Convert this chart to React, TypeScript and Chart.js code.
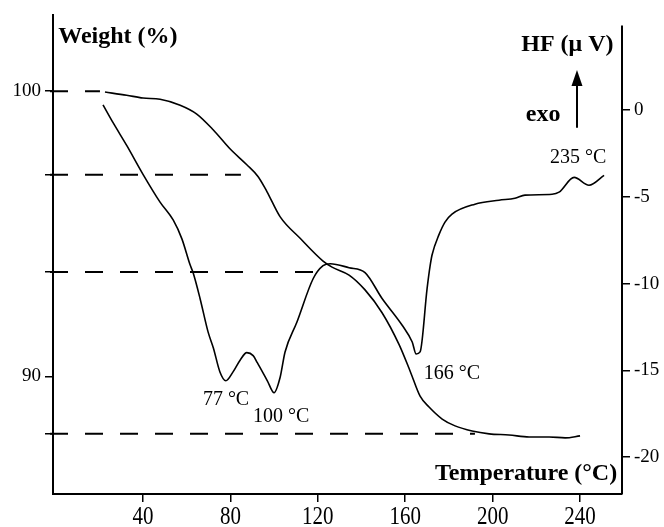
import React, { useEffect, useRef } from "react";
import { Chart, registerables } from "chart.js";

Chart.register(...registerables);

// TGA curve: temperature (°C) vs weight (%)
const tgaTemp = [22.6, 32.5, 40, 47.8, 57, 64.6, 72.2, 79.8, 87.5, 92.7, 96.7, 102.7, 111.9, 122.4, 126.5, 134.3, 141.6, 149.4, 157.2, 162.3, 166.8, 170.9, 176.9, 182.8, 190.6, 198.4, 207.5, 216.7, 225.8, 233.2, 240];
const tgaWeight = [99.97, 99.86, 99.76, 99.72, 99.51, 99.2, 98.64, 97.98, 97.42, 97.0, 96.48, 95.6, 94.84, 94.04, 93.83, 93.55, 93.03, 92.23, 91.11, 90.17, 89.3, 88.92, 88.5, 88.26, 88.08, 87.98, 87.94, 87.87, 87.87, 87.84, 87.91];

// DSC curve: temperature (°C) vs heat flow (µV)
const dscTemp = [21.7, 26.3, 32.6, 40, 47.8, 53.8, 57.8, 61.5, 62.9, 66.1, 69.8, 72.2, 75.2, 77.9, 81.2, 84.5, 87.5, 90.4, 92.3, 96.9, 100, 102.7, 105, 110.4, 117.9, 122.4, 125.7, 134.3, 141.6, 149.4, 158.6, 163.2, 165, 166.8, 170, 171.4, 172.3, 175.4, 178.2, 181.4, 191.9, 202.9, 210.2, 214.8, 227.2, 230.4, 237.3, 244.1, 251];
const dscHF = [0.29, -0.74, -2.06, -3.71, -5.31, -6.34, -7.43, -8.91, -9.37, -10.86, -12.8, -13.71, -15.09, -15.6, -15.09, -14.4, -13.98, -14.15, -14.56, -15.6, -16.29, -15.43, -13.94, -12.23, -9.71, -8.97, -8.86, -9.09, -9.37, -10.86, -12.4, -13.37, -14.06, -13.94, -10.29, -8.97, -8.34, -7.2, -6.46, -6.0, -5.43, -5.2, -5.09, -4.91, -4.86, -4.74, -3.89, -4.34, -3.77];

// Dashed weight-level guide lines
const refWeight = [100, 97.07, 93.66, 87.98];
const refStartTemp = [-2.56, -2.56, -2.56, -2.56];
const refEndTemp = [20.3, 84.8, 121.9, 191.9];

// Tick values
const xTicks = [40, 80, 120, 160, 200, 240];
const leftTicks = [100, 97.07, 93.66, 90, 87.98];
const leftLabelled = [100, 90];
const rightTicks = [0, -5, -10, -15, -20];

// Annotations (x in °C, y in µV on the right axis)
const peakLabels = ["77 °C", "100 °C", "166 °C", "235 °C"];
const peakLabelT = [78, 103.2, 181.4, 239.1];
const peakLabelH = [-16.69, -17.66, -15.2, -2.74];

const SERIF = '"Liberation Serif", "Times New Roman", serif';

const overlayPlugin = {
  id: "overlay",
  afterDatasetsDraw(chart: any) {
    const ctx = chart.ctx;
    const x = chart.scales.x;
    const yl = chart.scales.yL;
    const yr = chart.scales.yR;
    const area = chart.chartArea;
    ctx.save();
    // right axis line (shorter than the left one)
    ctx.strokeStyle = "#000";
    ctx.lineWidth = 2;
    ctx.beginPath();
    ctx.moveTo(area.right, yr.getPixelForValue(4.86));
    ctx.lineTo(area.right, area.bottom);
    ctx.stroke();

    ctx.fillStyle = "#000";
    // x tick labels (tall, narrow digits as in the scan)
    ctx.font = `21px ${SERIF}`;
    ctx.textAlign = "center";
    ctx.textBaseline = "middle";
    xTicks.forEach((v) => {
      ctx.save();
      ctx.translate(x.getPixelForValue(v), area.bottom + 23);
      ctx.scale(1, 1.2);
      ctx.fillText(String(v), 0, 0);
      ctx.restore();
    });

    // peak labels
    ctx.font = `20px ${SERIF}`;
    peakLabels.forEach((t, i) => {
      ctx.fillText(t, x.getPixelForValue(peakLabelT[i]), yr.getPixelForValue(peakLabelH[i]));
    });

    // axis titles
    ctx.font = `bold 24px ${SERIF}`;
    ctx.textAlign = "left";
    ctx.fillText("Weight (%)", x.getPixelForValue(1.2), yl.getPixelForValue(101.92));
    ctx.textAlign = "right";
    ctx.fillText("HF (\u03bc V)", x.getPixelForValue(255.3), yr.getPixelForValue(3.77));
    ctx.fillText("Temperature (\u00b0C)", x.getPixelForValue(257), yr.getPixelForValue(-20.97));
    ctx.textAlign = "center";
    ctx.fillText("exo", x.getPixelForValue(223.1), yr.getPixelForValue(-0.29));

    // exo arrow
    const ax = x.getPixelForValue(238.6);
    const yBase = yr.getPixelForValue(-1.03);
    const yTip = yr.getPixelForValue(2.29);
    const headLen = 16;
    ctx.lineWidth = 2;
    ctx.beginPath();
    ctx.moveTo(ax, yBase);
    ctx.lineTo(ax, yTip + headLen - 2);
    ctx.stroke();
    ctx.beginPath();
    ctx.moveTo(ax, yTip);
    ctx.lineTo(ax - 5.5, yTip + headLen);
    ctx.lineTo(ax + 5.5, yTip + headLen);
    ctx.closePath();
    ctx.fill();
    ctx.restore();
  },
};

export default function App() {
  const ref = useRef<HTMLCanvasElement | null>(null);
  useEffect(() => {
    if (!ref.current) return;
    const refSets = refWeight.map((w, i) => ({
      type: "line" as const,
      data: [
        { x: refStartTemp[i], y: w },
        { x: refEndTemp[i], y: w },
      ],
      yAxisID: "yL",
      borderColor: "#000",
      borderWidth: 2,
      borderDash: [18, 17],
      pointRadius: 0,
      clip: false as any,
      tension: 0,
    }));
    const chart = new Chart(ref.current, {
      type: "line",
      data: {
        datasets: [
          {
            data: tgaTemp.map((t, i) => ({ x: t, y: tgaWeight[i] })),
            yAxisID: "yL",
            borderColor: "#000",
            borderWidth: 1.6,
            pointRadius: 0,
            cubicInterpolationMode: "monotone",
          },
          {
            data: dscTemp.map((t, i) => ({ x: t, y: dscHF[i] })),
            yAxisID: "yR",
            borderColor: "#000",
            borderWidth: 1.6,
            pointRadius: 0,
            cubicInterpolationMode: "monotone",
          },
          ...refSets,
        ],
      },
      options: {
        responsive: false,
        animation: false,
        events: [],
        layout: { padding: { top: 13, left: 0, right: 0, bottom: 0 } },
        plugins: { legend: { display: false }, tooltip: { enabled: false } },
        scales: {
          x: {
            type: "linear",
            min: -1.19,
            max: 259.2,
            afterBuildTicks: (s: any) => {
              s.ticks = xTicks.map((v) => ({ value: v }));
            },
            afterFit: (s: any) => {
              s.height = 33;
            },
            ticks: { display: false },
            grid: { display: true, drawOnChartArea: false, drawTicks: true, tickLength: 8, color: "#000", lineWidth: 1.5 },
            border: { display: true, color: "#000", width: 2 },
          },
          yL: {
            type: "linear",
            position: "left",
            min: 85.87,
            max: 102.66,
            afterBuildTicks: (s: any) => {
              s.ticks = leftTicks.map((v) => ({ value: v }));
            },
            afterFit: (s: any) => {
              s.width = 53;
            },
            ticks: {
              color: "#000",
              font: { family: SERIF, size: 19 },
              padding: 4,
              autoSkip: false,
              callback: (v: any) => (leftLabelled.includes(Number(v)) ? String(v) : ""),
            },
            grid: { display: true, drawOnChartArea: false, drawTicks: true, tickLength: 8, color: "#000", lineWidth: 1.5 },
            border: { display: true, color: "#000", width: 2 },
          },
          yR: {
            type: "linear",
            position: "right",
            min: -22.12,
            max: 5.44,
            afterBuildTicks: (s: any) => {
              s.ticks = rightTicks.map((v) => ({ value: v }));
            },
            afterFit: (s: any) => {
              s.width = 42;
            },
            ticks: {
              color: "#000",
              font: { family: SERIF, size: 19 },
              padding: 4,
              autoSkip: false,
            },
            grid: { display: true, drawOnChartArea: false, drawTicks: true, tickLength: 8, color: "#000", lineWidth: 1.5 },
            border: { display: false },
          },
        },
      } as any,
      plugins: [overlayPlugin],
    });
    return () => chart.destroy();
  }, []);
  return (
    <div style={{ position: "absolute", left: 0, top: 0, width: 664, height: 527, background: "#fff" }}>
      <canvas ref={ref} width={664} height={527} style={{ display: "block" }} />
    </div>
  );
}
